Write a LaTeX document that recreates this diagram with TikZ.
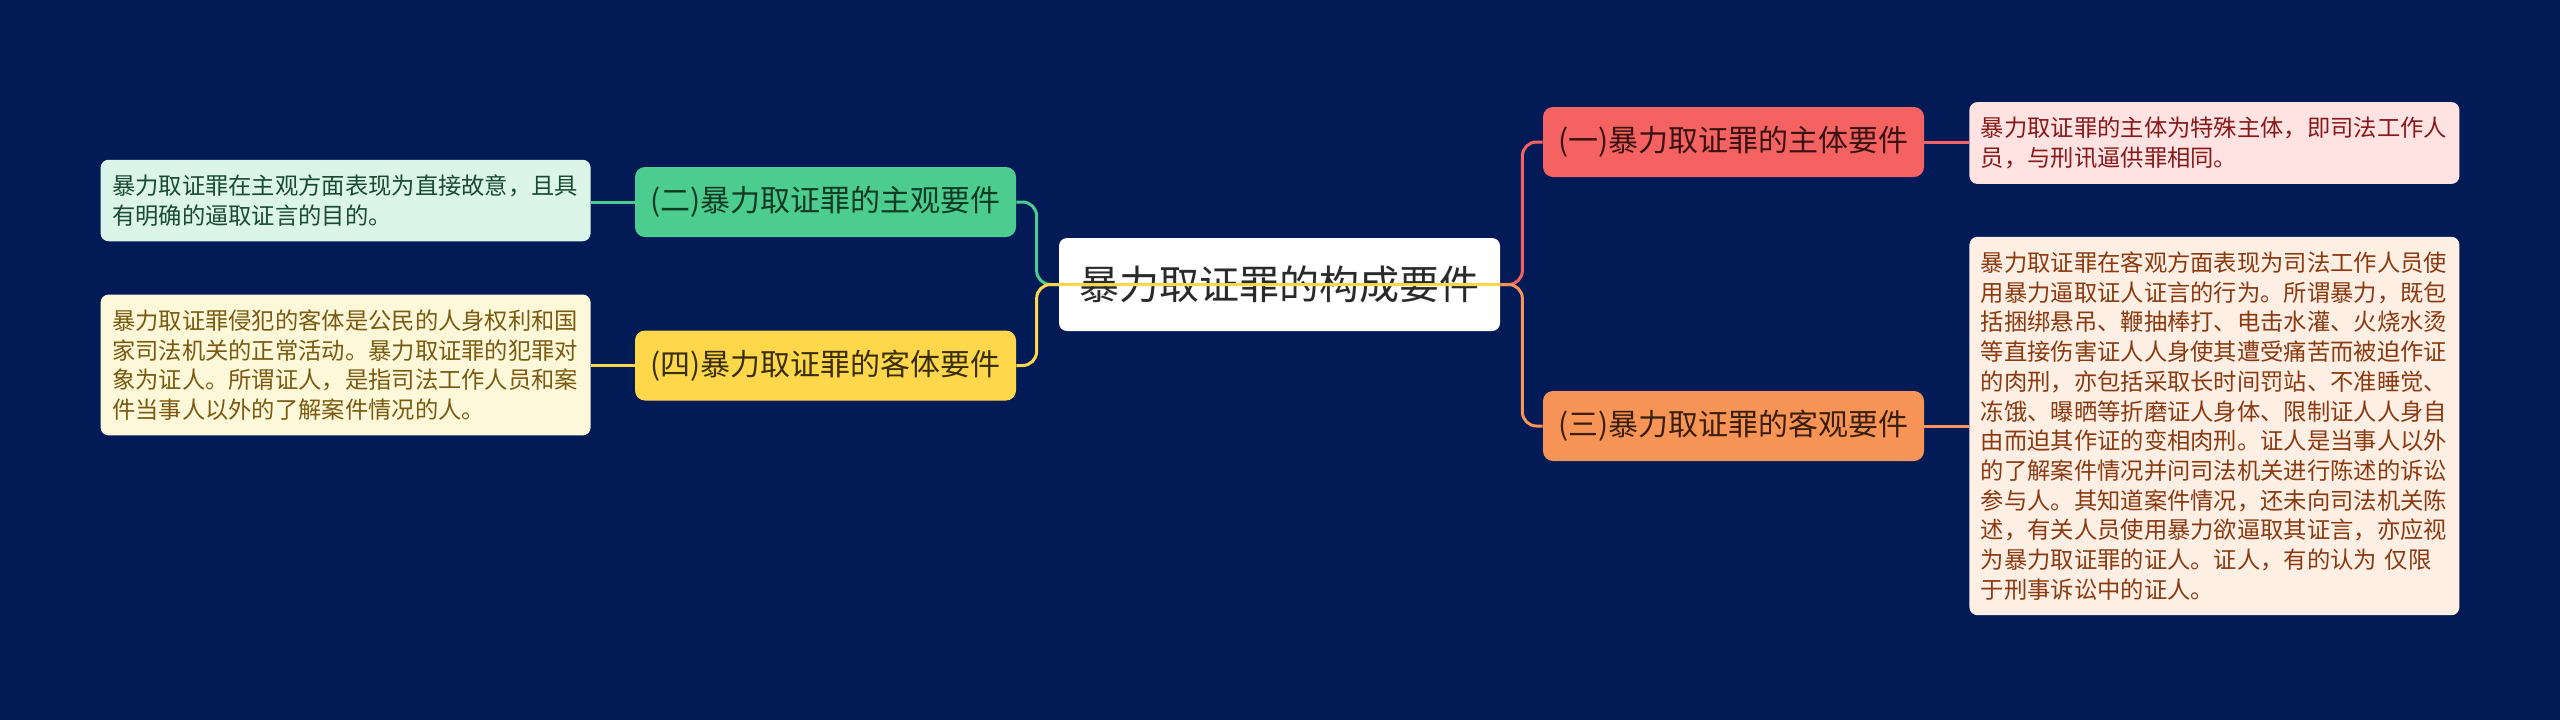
\documentclass[tikz,border=0pt]{standalone}
\usepackage{fontspec}
\setmainfont{Noto Sans CJK SC}
\definecolor{bg}{HTML}{021B57}
\definecolor{redN}{HTML}{F46262}
\definecolor{redT}{HTML}{3A1212}
\definecolor{redL}{HTML}{FFE3E3}
\definecolor{redLT}{HTML}{861A1A}
\definecolor{orgN}{HTML}{F89556}
\definecolor{orgT}{HTML}{3A1E0E}
\definecolor{orgL}{HTML}{FEEFE4}
\definecolor{orgLT}{HTML}{8A3A10}
\definecolor{grnN}{HTML}{4CCC8F}
\definecolor{grnT}{HTML}{103A24}
\definecolor{grnL}{HTML}{DCF5E9}
\definecolor{grnLT}{HTML}{1A4A33}
\definecolor{ylwN}{HTML}{FED74B}
\definecolor{ylwT}{HTML}{3A2E0A}
\definecolor{ylwL}{HTML}{FEF8DA}
\definecolor{ylwLT}{HTML}{7A5A10}
\definecolor{mainT}{HTML}{2A2A2A}
\tikzset{
  mainbox/.style={fill=white, rounded corners=4pt, minimum width=220.5pt, minimum height=46.5pt, inner sep=0pt, text=mainT, font=\fontsize{20pt}{24pt}\selectfont},
  midbox/.style={rounded corners=5pt, minimum width=190.5pt, minimum height=35pt, inner sep=0pt, font=\fontsize{15pt}{18pt}\selectfont},
  leafbox/.style={rounded corners=4pt, inner xsep=5.75pt, inner ysep=7.5pt, text width=233.5pt, align=left, font=\fontsize{11.65pt}{14.85pt}\selectfont},
  link/.style={line width=1.5pt, rounded corners=7pt}
}
\begin{document}
\begin{tikzpicture}[x=0.5pt,y=-0.5pt]
\useasboundingbox (0,0) rectangle (2560,719);
\fill[bg] (-20,-20) rectangle (2580,740);

\node[mainbox] (c) at (1279.5,284.5) {暴力取证罪的构成要件};
\node[midbox, fill=redN, text=redT] (n1) at (1733.5,142) {(一)暴力取证罪的主体要件};
\node[midbox, fill=orgN, text=orgT] (n3) at (1733.5,426) {(三)暴力取证罪的客观要件};
\node[midbox, fill=grnN, text=grnT] (n2) at (825.5,202) {(二)暴力取证罪的主观要件};
\node[midbox, fill=ylwN, text=ylwT] (n4) at (825.5,365.5) {(四)暴力取证罪的客体要件};

\node[leafbox, fill=redL, text=redLT, anchor=west] (l1) at (1969,143) {暴力取证罪的主体为特殊主体，即司法工作人\\员，与刑讯逼供罪相同。};
\node[leafbox, fill=orgL, text=orgLT, anchor=west] (l3) at (1969,426) {暴力取证罪在客观方面表现为司法工作人员使\\用暴力逼取证人证言的行为。所谓暴力，既包\\括捆绑悬吊、鞭抽棒打、电击水灌、火烧水烫\\等直接伤害证人人身使其遭受痛苦而被迫作证\\的肉刑，亦包括采取长时间罚站、不准睡觉、\\冻饿、曝晒等折磨证人身体、限制证人人身自\\由而迫其作证的变相肉刑。证人是当事人以外\\的了解案件情况并问司法机关进行陈述的诉讼\\参与人。其知道案件情况，还未向司法机关陈\\述，有关人员使用暴力欲逼取其证言，亦应视\\为暴力取证罪的证人。证人，有的认为 仅限\\于刑事诉讼中的证人。};
\node[leafbox, fill=grnL, text=grnLT, anchor=east] (l2) at (591,200.5) {暴力取证罪在主观方面表现为直接故意，且具\\有明确的逼取证言的目的。};
\node[leafbox, fill=ylwL, text=ylwLT, anchor=east] (l4) at (591,365) {暴力取证罪侵犯的客体是公民的人身权利和国\\家司法机关的正常活动。暴力取证罪的犯罪对\\象为证人。所谓证人，是指司法工作人员和案\\件当事人以外的了解案件情况的人。};

\draw[link, grnN] (c.west) -- ++(-11pt,0) |- (n2.east);
\draw[link, ylwN] (c.east) -- ([xshift=-11pt]c.west) |- (n4.east);
\draw[link, redN] (c.east) -- ++(11pt,0) |- (n1.west);
\draw[link, orgN] (c.east) -- ++(11pt,0) |- (n3.west);

\draw[link, redN] (n1.east) -- (n1.east -| l1.west);
\draw[link, orgN] (n3.east) -- (n3.east -| l3.west);
\draw[link, grnN] (n2.west) -- (n2.west -| l2.east);
\draw[link, ylwN] (n4.west) -- (n4.west -| l4.east);
\end{tikzpicture}
\end{document}
